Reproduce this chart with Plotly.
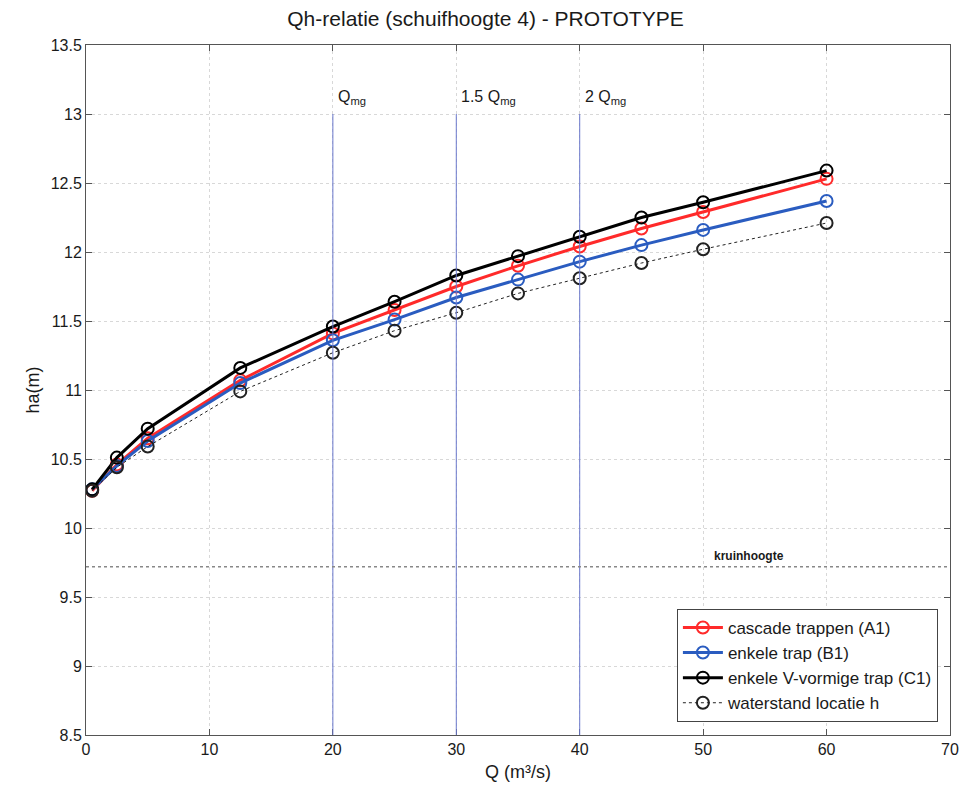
import plotly.graph_objects as go

# Discharge (m3/s) and upstream water level ha (m) per configuration
q = [0.5, 2.5, 5, 12.5, 20, 25, 30, 35, 40, 45, 50, 60]
ha_a1 = [10.27, 10.46, 10.65, 11.07, 11.41, 11.58, 11.75, 11.90, 12.04, 12.17, 12.29, 12.53]
ha_b1 = [10.28, 10.45, 10.63, 11.05, 11.36, 11.51, 11.67, 11.80, 11.93, 12.05, 12.16, 12.37]
ha_c1 = [10.28, 10.51, 10.72, 11.16, 11.46, 11.64, 11.83, 11.97, 12.11, 12.25, 12.36, 12.59]
h_loc = [10.27, 10.44, 10.59, 10.99, 11.27, 11.43, 11.56, 11.70, 11.81, 11.92, 12.02, 12.21]

series_names = ["cascade trappen (A1)", "enkele trap (B1)",
                "enkele V-vormige trap (C1)", "waterstand locatie h"]

# Reference discharges and crest level
q_ref = [20, 30, 40]
q_ref_labels = ["Q<sub>mg</sub>", "1.5 Q<sub>mg</sub>", "2 Q<sub>mg</sub>"]
crest_level = 9.72

FONT = "Liberation Sans, Arial, sans-serif"
TXT = "#1a1a1a"

fig = go.Figure()

styles = [
    (ha_a1, "#ff2a2a", 3, "solid"),
    (ha_b1, "#2a5cc0", 3, "solid"),
    (ha_c1, "#000000", 3, "solid"),
    (h_loc, "#222222", 1, "dot"),
]
for (ys, color, w, dash), name in zip(styles, series_names):
    fig.add_trace(go.Scatter(
        x=q, y=ys, name=name, mode="lines+markers",
        line=dict(color=color, width=w, dash=dash),
        marker=dict(symbol="circle-open", size=12, color=color,
                    line=dict(width=2, color=color)),
    ))

# Vertical reference lines for multiples of Qmg
for xv, lab in zip(q_ref, q_ref_labels):
    fig.add_shape(type="line", x0=xv, x1=xv, y0=8.5, y1=13,
                  xref="x", yref="y",
                  line=dict(color="#6a78cc", width=1))
    fig.add_annotation(x=xv, y=13.12, xref="x", yref="y", text=lab,
                       showarrow=False, xanchor="left", xshift=3,
                       font=dict(family=FONT, size=16, color=TXT))

# Crest level
fig.add_shape(type="line", x0=0, x1=70, y0=crest_level, y1=crest_level,
              xref="x", yref="y",
              line=dict(color="#888888", width=1.5, dash="dot"))
fig.add_annotation(x=53.7, y=crest_level, xref="x", yref="y",
                   text="<b>kruinhoogte</b>", showarrow=False,
                   yanchor="bottom", yshift=2,
                   font=dict(family=FONT, size=12, color=TXT))

fig.update_layout(
    width=971, height=794,
    margin=dict(l=86, r=15, t=45, b=59),
    paper_bgcolor="white", plot_bgcolor="white",
    font=dict(family=FONT, size=16, color=TXT),
    title=dict(text="Qh-relatie (schuifhoogte 4) - PROTOTYPE",
               x=0.5, xanchor="center", y=0.977, yanchor="middle",
               font=dict(family=FONT, size=21, color=TXT)),
    showlegend=True,
    legend=dict(x=0.986, y=0.019, xanchor="right", yanchor="bottom",
                bordercolor="#444", borderwidth=1, bgcolor="white",
                font=dict(family=FONT, size=17, color=TXT),
                tracegroupgap=0, itemwidth=40),
)

fig.update_xaxes(
    range=[0, 70], tickvals=[0, 10, 20, 30, 40, 50, 60, 70],
    tickfont=dict(family=FONT, size=16, color=TXT),
    title=dict(text="Q (m³/s)", font=dict(family=FONT, size=18), standoff=8),
    showline=True, linecolor="#555", linewidth=1, mirror="ticks",
    ticks="inside", ticklen=6, tickcolor="#555",
    showgrid=True, gridcolor="#d8d8d8", griddash="dot", gridwidth=1,
    zeroline=False,
)
fig.update_yaxes(
    range=[8.5, 13.5],
    tickvals=[8.5, 9, 9.5, 10, 10.5, 11, 11.5, 12, 12.5, 13, 13.5],
    ticktext=["8.5", "9", "9.5", "10", "10.5", "11", "11.5", "12", "12.5", "13", "13.5"],
    tickfont=dict(family=FONT, size=16, color=TXT),
    title=dict(text="ha(m)", font=dict(family=FONT, size=18), standoff=6),
    showline=True, linecolor="#555", linewidth=1, mirror="ticks",
    ticks="inside", ticklen=6, tickcolor="#555",
    showgrid=True, gridcolor="#d8d8d8", griddash="dot", gridwidth=1,
    zeroline=False,
)

fig.write_html("out.html")
